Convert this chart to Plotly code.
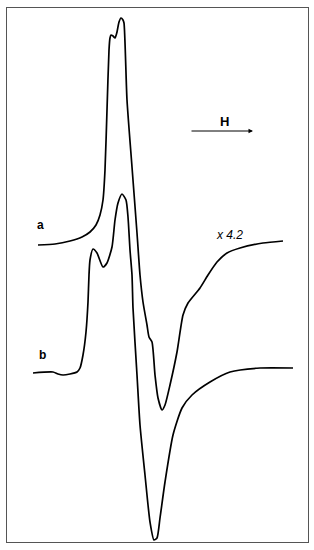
import plotly.graph_objects as go

# Curve a (field, signal) (arbitrary units)
field_a = [38, 55, 70, 82, 90, 96, 100, 103, 105, 107, 109, 110, 111, 113, 115, 117, 119, 121, 123, 124,
           127, 132, 137, 140, 143, 147, 149, 152, 155, 158, 162, 165, 170, 177, 183, 188, 200, 208,
           217, 227, 240, 263, 283]
sig_a = [305, 306, 309, 313, 318, 325, 335, 350, 380, 440, 500, 512, 515, 514, 512, 518, 528, 532, 530, 527,
         450, 383, 317, 275, 248, 225, 213, 208, 175, 152, 140, 145, 165, 198, 235, 247, 262, 275,
         288, 297, 302, 307, 309]

# Curve b
field_b = [33, 53, 58, 63, 70, 77, 80, 83, 86, 88, 89, 90, 93, 97, 103, 107, 112, 115, 118, 122, 126,
           128, 130, 132, 133, 137, 140, 145, 150, 154, 157, 160, 165, 173, 182, 192, 210, 230, 260, 293]
sig_b = [177, 178, 176, 175, 176, 178, 182, 195, 218, 248, 275, 290, 301, 297, 283, 287, 303, 330, 347, 356, 350,
         333, 300, 275, 242, 175, 125, 75, 28, 10, 12, 32, 68, 115, 142, 155, 168, 178, 182, 182]

fig = go.Figure()
fig.add_trace(go.Scatter(x=field_a, y=sig_a, mode="lines",
                         line=dict(color="black", width=1.7, shape="spline", smoothing=0.6),
                         showlegend=False, hoverinfo="skip"))
fig.add_trace(go.Scatter(x=field_b, y=sig_b, mode="lines",
                         line=dict(color="black", width=1.7, shape="spline", smoothing=0.6),
                         showlegend=False, hoverinfo="skip"))

fnt = dict(family="Liberation Sans, Arial, sans-serif", size=12, color="black")
fig.add_annotation(x=40, y=325, text="<b>a</b>", showarrow=False, font=fnt)
fig.add_annotation(x=42, y=195, text="<b>b</b>", showarrow=False, font=fnt)
fig.add_annotation(x=229, y=315, text="<i>x 4.2</i>", showarrow=False,
                   font=dict(family="Liberation Sans, Arial, sans-serif", size=12, color="black"))
fig.add_annotation(x=224, y=429, text="<b>H</b>", showarrow=False,
                   font=dict(family="Liberation Sans, Arial, sans-serif", size=13, color="black"))
fig.add_annotation(x=253, y=419, ax=190, ay=419, axref="x", ayref="y", xref="x", yref="y",
                   text="", showarrow=True, arrowhead=2, arrowsize=0.9, arrowwidth=1, arrowcolor="black")

fig.update_layout(
    width=314, height=550,
    margin=dict(l=7, r=6, t=8, b=8),
    paper_bgcolor="white", plot_bgcolor="white",
    xaxis=dict(range=[7, 308], showgrid=False, zeroline=False, showticklabels=False, ticks="",
               showline=True, mirror=True, linecolor="#555", linewidth=1),
    yaxis=dict(range=[8, 542], showgrid=False, zeroline=False, showticklabels=False, ticks="",
               showline=True, mirror=True, linecolor="#555", linewidth=1),
)
fig.write_html("out.html", config={"displayModeBar": False},
               post_script="document.body.style.margin='0';document.body.style.overflow='hidden';")
